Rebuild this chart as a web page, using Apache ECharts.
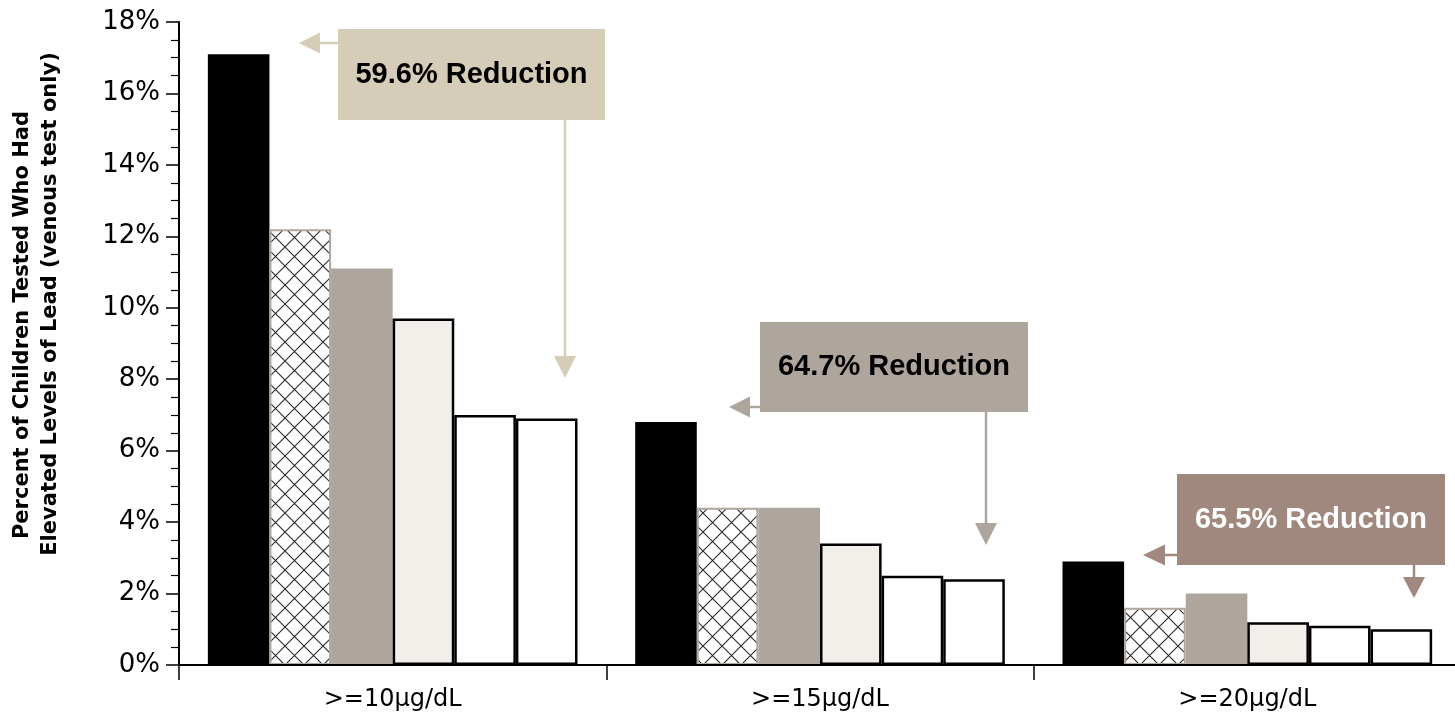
<!DOCTYPE html>
<html><head><meta charset="utf-8">
<script src="https://cdn.jsdelivr.net/npm/echarts@6/dist/echarts.min.js"></script>
<style>html,body{margin:0;padding:0;background:#fff}#c{width:1455px;height:715px}</style>
</head><body><div id="c"></div>
<script>
// ---- data ----
const categories = ['>=10\u03bcg/dL', '>=15\u03bcg/dL', '>=20\u03bcg/dL'];
const series1 = [17.1, 6.8, 2.9];
const series2 = [12.2, 4.4, 1.6];
const series3 = [11.1, 4.4, 2.0];
const series4 = [9.7, 3.4, 1.2];
const series5 = [7.0, 2.5, 1.1];
const series6 = [6.9, 2.4, 1.0];
const yMin = 0, yMax = 18, yStep = 2;
const yAxisTitleLines = ['Percent of Children Tested Who Had', 'Elevated Levels of Lead (venous test only)'];
const annotationTexts = ['59.6% Reduction', '64.7% Reduction', '65.5% Reduction'];

// ---- cross-hatch pattern ----
const tile = document.createElement('canvas');
tile.width = 19; tile.height = 19;
const g = tile.getContext('2d');
g.fillStyle = '#ffffff'; g.fillRect(0, 0, 19, 19);
g.strokeStyle = '#2a2a2a'; g.lineWidth = 1.1;
g.beginPath(); g.moveTo(0, 0); g.lineTo(19, 19); g.moveTo(19, 0); g.lineTo(0, 19); g.stroke();

const styles = [
  { color: '#000000' },
  { color: { image: tile, repeat: 'repeat' }, borderColor: '#b0a79e', borderWidth: 2 },
  { color: '#aea59c' },
  { color: '#f2eeea', borderColor: '#000', borderWidth: 2.5 },
  { color: '#ffffff', borderColor: '#000', borderWidth: 2.5 },
  { color: '#ffffff', borderColor: '#000', borderWidth: 2.5 }
];
const allSeries = [series1, series2, series3, series4, series5, series6];

// ---- annotation layout (decoration) ----
const annLayout = [
  { box: [338, 29, 267, 91], fill: '#d6cdb9', txt: '#000', left: [43, 299, 320], down: [565, 356, 378] },
  { box: [760, 322, 268, 90], fill: '#aea59c', txt: '#000', left: [407, 729, 750], down: [986, 523, 545] },
  { box: [1177, 474, 268, 91], fill: '#a0887e', txt: '#fff', left: [555, 1143, 1165], down: [1414, 577, 598] }
];
const graphics = [];
annLayout.forEach((a, i) => {
  const [bx, by, bw, bh] = a.box;
  graphics.push({ type: 'rect', shape: { x: bx, y: by, width: bw, height: bh }, style: { fill: a.fill }, z: 10 });
  graphics.push({ type: 'text', x: bx + bw / 2, y: by + bh / 2, z: 11,
    style: { text: annotationTexts[i], font: 'bold 29px "Liberation Sans", Arial, sans-serif', fill: a.txt, textAlign: 'center', textVerticalAlign: 'middle' } });
  const [ly, tip, base] = a.left;
  graphics.push({ type: 'line', shape: { x1: bx, y1: ly, x2: base - 1, y2: ly }, style: { stroke: a.fill, lineWidth: 2.5 }, z: 10 });
  graphics.push({ type: 'polygon', shape: { points: [[tip, ly], [base, ly - 10.5], [base, ly + 10.5]] }, style: { fill: a.fill }, z: 10 });
  const [dx, top, dtip] = a.down;
  graphics.push({ type: 'line', shape: { x1: dx, y1: by + bh, x2: dx, y2: top + 1 }, style: { stroke: a.fill, lineWidth: 2.5 }, z: 10 });
  graphics.push({ type: 'polygon', shape: { points: [[dx - 11, top], [dx + 11, top], [dx, dtip]] }, style: { fill: a.fill }, z: 10 });
});
const titlePos = [[23, 325], [51, 304]];
yAxisTitleLines.forEach((t, i) => {
  graphics.push({ type: 'text', x: titlePos[i][0], y: titlePos[i][1], rotation: Math.PI / 2, z: 11,
    style: { text: t, font: 'bold 21px "DejaVu Sans", sans-serif', fill: '#000', textAlign: 'center', textVerticalAlign: 'middle' } });
});

const chart = echarts.init(document.getElementById('c'));
chart.setOption({
  animation: false,
  backgroundColor: '#fff',
  grid: { left: 179, top: 22, bottom: 50, right: -6, containLabel: false, outerBoundsMode: 'none' },
  xAxis: {
    type: 'category', data: categories,
    axisLine: { lineStyle: { color: '#000', width: 2 } },
    axisTick: { show: true, length: 15, lineStyle: { color: '#000', width: 1.5 } },
    axisLabel: { color: '#000', fontSize: 24, fontFamily: '"DejaVu Sans", sans-serif', margin: 23 },
    z: 5
  },
  yAxis: {
    type: 'value', min: yMin, max: yMax, interval: yStep,
    axisLine: { show: true, lineStyle: { color: '#000', width: 2 } },
    axisTick: { show: true, length: 13, lineStyle: { color: '#000', width: 1.5 } },
    minorTick: { show: true, splitNumber: 4, length: 8, lineStyle: { color: '#000', width: 1.2 } },
    splitLine: { show: false },
    axisLabel: { color: '#000', fontSize: 26, fontFamily: '"DejaVu Sans", sans-serif', margin: 19, formatter: '{value}%' }
  },
  series: allSeries.map((d, i) => ({
    type: 'bar', name: 'Series ' + (i + 1), data: d,
    barGap: '0%', barCategoryGap: '13.5%',
    itemStyle: styles[i]
  })),
  graphic: graphics
});
</script></body></html>
